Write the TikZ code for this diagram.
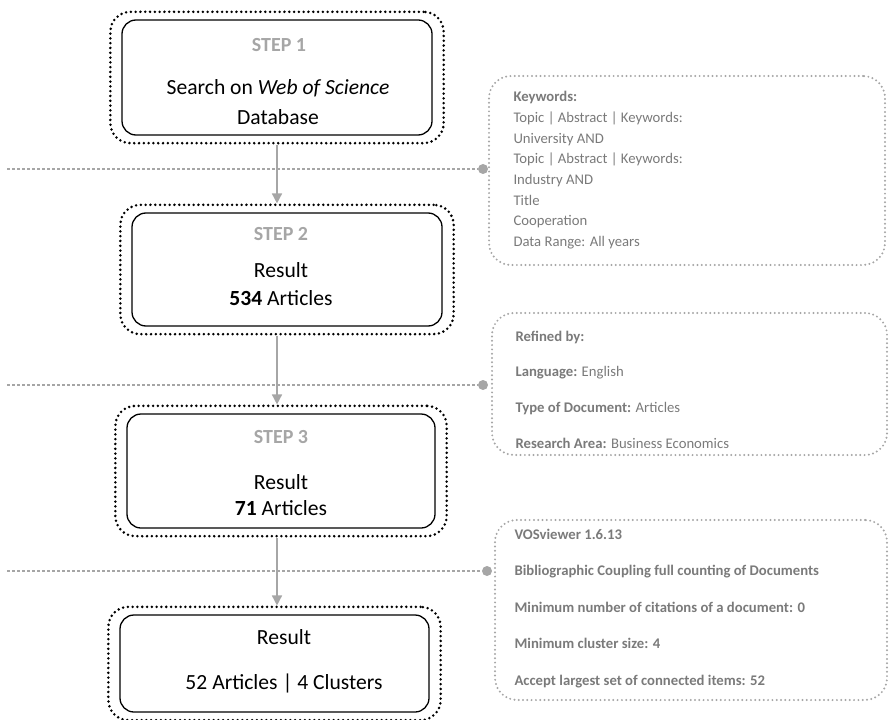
\documentclass[tikz,border=0pt]{standalone}
\usepackage{fontspec}
\setmainfont{Carlito}
\usetikzlibrary{arrows.meta}
\usetikzlibrary{fit}
\definecolor{stepgray}{HTML}{A6A6A6}
\definecolor{notegray}{HTML}{7A7A7A}
\definecolor{linegray}{HTML}{A6A6A6}
\tikzset{
  stepbox/.style={draw, line width=1.3pt, rounded corners=14pt, inner sep=0pt},
  outerdots/.style={draw, line width=2.8pt, line cap=round, dash pattern=on 0pt off 4.8pt,
    rounded corners=20pt, inner xsep=11pt, inner ysep=7.5pt},
  notebox/.style={draw=linegray, line width=2.2pt, line cap=round, dash pattern=on 0pt off 4.3pt,
    rounded corners=22pt, inner sep=0pt},
  steplabel/.style={anchor=base, text=stepgray, font=\fontsize{20}{24}\selectfont\bfseries},
  boxtext/.style={anchor=base, font=\fontsize{21.6}{25}\selectfont},
  notetext/.style={anchor=base west, text=notegray, font=\fontsize{14.7}{17}\selectfont},
  sepline/.style={draw=linegray, line width=2.5pt, dash pattern=on 2.5pt off 2.5pt},
  joint/.style={circle, fill=linegray, minimum size=10pt, inner sep=0pt},
  flow/.style={draw=linegray, line width=1.5pt, -{Triangle[width=10pt,length=10pt]}}
}
\begin{document}
\begin{tikzpicture}[x=1pt,y=-1pt]
\useasboundingbox (0,0) rectangle (890,719);
% main steps
\node[stepbox, minimum width=310pt, minimum height=115pt] (b1) at (277,77.5) {};
\node[stepbox, minimum width=310pt, minimum height=113pt] (b2) at (287,269.5) {};
\node[stepbox, minimum width=308pt, minimum height=114pt] (b3) at (281,471) {};
\node[stepbox, minimum width=309pt, minimum height=97pt] (b4) at (274.5,663.5) {};
\node[outerdots, fit=(b1)] (o1) {};
\node[outerdots, fit=(b2)] (o2) {};
\node[outerdots, fit=(b3)] (o3) {};
\node[outerdots, fit=(b4)] (o4) {};
\node[steplabel] (s1) at (279,51.5) {STEP 1};
\node[boxtext] (t1a) at (278,95) {Search on \textit{Web of Science}};
\node[boxtext] (t1b) at (278,125) {Database};
\node[steplabel] (s2) at (281,240.5) {STEP 2};
\node[boxtext] (t2a) at (281,277) {Result};
\node[boxtext] (t2b) at (281,305) {\textbf{534} Articles};
\node[steplabel] (s3) at (281,443.5) {STEP 3};
\node[boxtext] (t3a) at (281,489) {Result};
\node[boxtext] (t3b) at (281,515) {\textbf{71} Articles};
\node[boxtext] (t4a) at (284,644) {Result};
\node[boxtext] (t4b) at (284,689) {52 Articles | 4 Clusters};
% flow arrows
\draw[flow] (o1.south) -- (o1.south |- o2.north);
\draw[flow] (o1.south |- o2.south) -- (o1.south |- o3.north);
\draw[flow] (o1.south |- o3.south) -- (o1.south |- o4.north);
% notes
\node[notebox, minimum width=396pt, minimum height=189pt] (n1) at (687,170.5) {};
\node[notebox, minimum width=395pt, minimum height=142pt] (n2) at (689.5,384) {};
\node[notebox, minimum width=392pt, minimum height=180pt] (n3) at (691,610) {};
\foreach \txt [count=\i] in {{\textbf{Keywords:}}, {Topic | Abstract | Keywords:}, {University AND},
  {Topic | Abstract | Keywords:}, {Industry AND}, {Title}, {Cooperation}, {Data Range: All years}}
  \node[notetext] (k\i) at (510,{102+20.6*(\i-1)}) {\txt};
\foreach \txt [count=\i] in {{\textbf{Refined by:}}, {\textbf{Language:} English},
  {\textbf{Type of Document:} Articles}, {\textbf{Research Area:} Business Economics}}
  \node[notetext] (r\i) at (512,{341+35.7*(\i-1)}) {\txt};
\foreach \txt [count=\i] in {VOSviewer 1.6.13, Bibliographic Coupling full counting of Documents,
  Minimum number of citations of a document: 0, Minimum cluster size: 4,
  Accept largest set of connected items: 52}
  \node[notetext, font=\fontsize{14.7}{17}\selectfont\bfseries] (v\i) at (511,{539+36.5*(\i-1)}) {\txt};
% separators
\node[joint] (d1) at (483,169) {};
\node[joint] (d2) at (483,385) {};
\node[joint] (d3) at (487,571) {};
\coordinate (l1) at (7,169);
\coordinate (l2) at (7,385);
\coordinate (l3) at (7,571);
\draw[sepline] (l1) -- (d1);
\draw[sepline] (l2) -- (d2);
\draw[sepline] (l3) -- (d3);
\end{tikzpicture}
\end{document}
